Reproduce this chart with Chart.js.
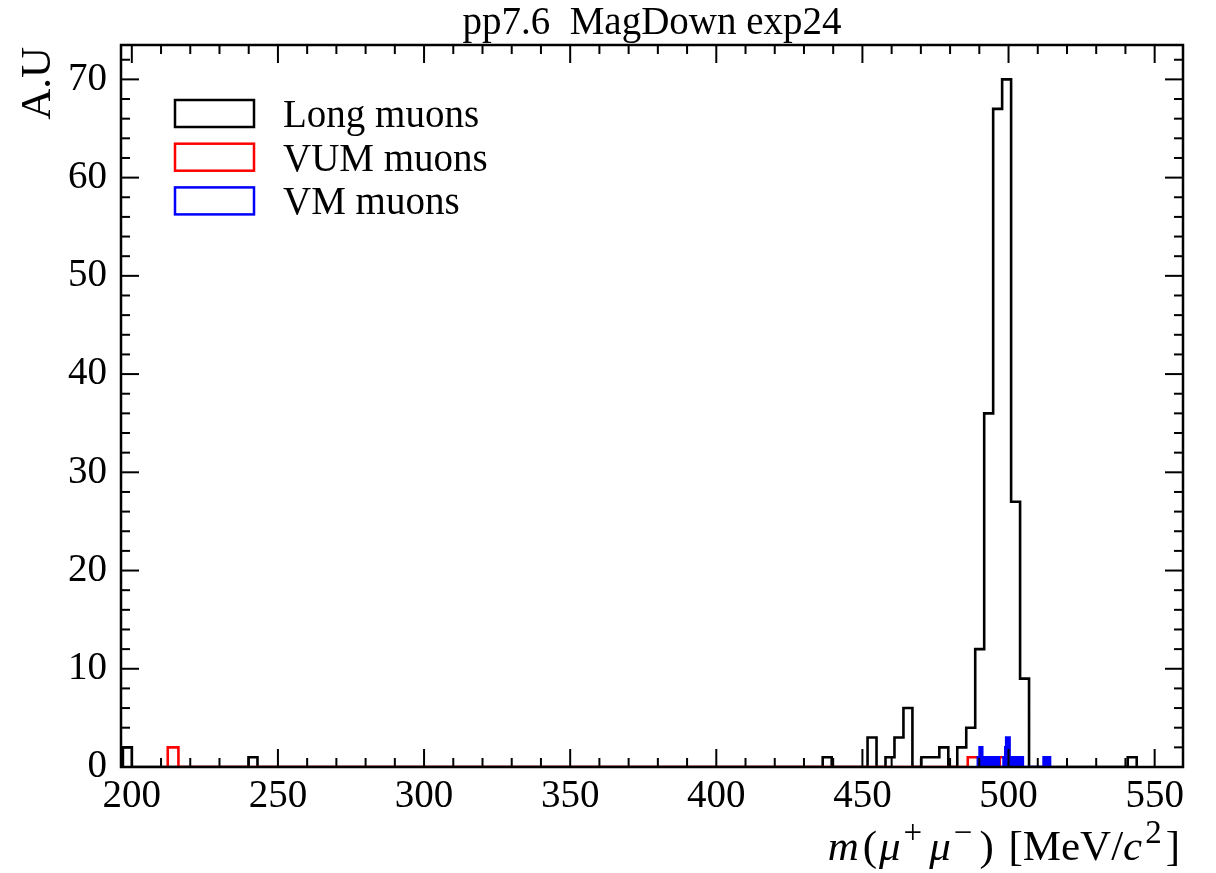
<!DOCTYPE html>
<html>
<head>
<meta charset="utf-8">
<title>pp7.6 MagDown exp24</title>
<script src="https://cdn.jsdelivr.net/npm/chart.js@4.4.1/dist/chart.umd.min.js"></script>
<style>
  html, body { margin: 0; padding: 0; background: #fff; }
  #wrap { width: 1216px; height: 873px; }
</style>
</head>
<body>
<div id="wrap"><canvas id="histChart"></canvas></div>
<script>
// Long muons: regular bins, only the non-empty ones (bin index, count)
const longStart  = 196.95;
const longWidth  = 3.07;
const longBins   = [0, 14, 78, 83, 85, 86, 87, 89, 90, 91, 93, 94, 95, 96, 97, 98, 99, 100, 112];
const longCounts = [2, 1, 1, 3, 1, 3, 6, 1, 1, 2, 2, 4, 12, 36, 67, 70, 27, 9, 1];

// VUM muons: regular bins
const vumStart  = 212.3;
const vumWidth  = 3.65;
const vumBins   = [0, 75, 78];
const vumCounts = [2, 1, 1];

// VM muons: very fine bins, read as (low edge, high edge, count)
const vmLow    = [489.5, 490.1, 491.0, 495.3, 498.3, 498.9, 499.2, 500.35, 512.0];
const vmHigh   = [490.1, 491.0, 494.9, 496.7, 498.9, 499.2, 500.35, 504.9, 514.2];
const vmCounts = [1, 2, 1, 1, 1, 2, 3, 1, 1];

// axes
const xTicks = [200, 250, 300, 350, 400, 450, 500, 550];
const yTicks = [0, 10, 20, 30, 40, 50, 60, 70];
const xMin = 196.3, xMax = 559.7;
const yMin = 0, yMax = 73.5;

const titleText = 'pp7.6  MagDown exp24';
const FONT = "'Liberation Serif', 'Times New Roman', serif";

// turn a list of bins into the outline of a step histogram
function binsToSteps(lows, highs, counts) {
    const pts = [];
    for (let i = 0; i < lows.length; i++) {
        const joined = i > 0 && Math.abs(lows[i] - highs[i - 1]) < 1e-6;
        if (!joined) {
            if (i > 0) pts.push({x: highs[i - 1], y: 0});
            pts.push({x: lows[i], y: 0});
        }
        pts.push({x: lows[i], y: counts[i]});
    }
    pts.push({x: highs[highs.length - 1], y: 0});
    return pts;
}

function regularBins(start, width, bins, counts) {
    const lows = bins.map(b => start + b * width);
    const highs = bins.map(b => start + (b + 1) * width);
    return binsToSteps(lows, highs, counts);
}

// frame, inward ticks on all four sides, title, axis labels, legend
const framePlugin = {
    id: 'frame',
    afterDraw(chart) {
        const {ctx, chartArea: a, scales} = chart;
        const xs = scales.x, ys = scales.y;
        ctx.save();
        ctx.strokeStyle = '#000';

        ctx.lineWidth = 2;
        const tick = (x1, y1, x2, y2) => { ctx.beginPath(); ctx.moveTo(x1, y1); ctx.lineTo(x2, y2); ctx.stroke(); };
        for (let v = 200; v <= xMax; v += 10) {
            const px = xs.getPixelForValue(v);
            const len = xTicks.includes(v) ? 18 : 9;
            tick(px, a.bottom, px, a.bottom - len);
            tick(px, a.top, px, a.top + len);
        }
        for (let v = 0; v <= yMax; v += 2) {
            const py = ys.getPixelForValue(v);
            const len = yTicks.includes(v) ? 18 : 9;
            tick(a.left, py, a.left + len, py);
            tick(a.right, py, a.right - len, py);
        }

        ctx.lineWidth = 2.5;
        ctx.strokeRect(a.left, a.top, a.right - a.left, a.bottom - a.top);

        ctx.fillStyle = '#000';
        ctx.textBaseline = 'alphabetic';

        // title
        ctx.font = '39px ' + FONT;
        ctx.textAlign = 'center';
        ctx.fillText(titleText, (a.left + a.right) / 2, 34);

        // y label
        ctx.font = '43px ' + FONT;
        ctx.save();
        ctx.translate(50, a.top + 2);
        ctx.rotate(-Math.PI / 2);
        ctx.textAlign = 'right';
        ctx.fillText('A.U', 0, 0);
        ctx.restore();

        // x label: m(μ+μ−) [MeV/c2] with italics and superscripts
        // [text, style, extra space after]
        const parts = [
            ['m', 'italic', 4], ['(', '', 2], ['μ', 'italic', 3], ['+', 'sup', 7],
            ['μ', 'italic', 3], ['−', 'sup', 7], [')', '', 4], [' [MeV/', '', 0],
            ['c', 'italic', 3], ['2', 'sup', 4], [']', '', 0]
        ];
        const fontFor = s => s === 'italic' ? 'italic 43px ' + FONT : s === 'sup' ? '33px ' + FONT : '43px ' + FONT;
        let total = 0;
        parts.forEach(p => { ctx.font = fontFor(p[1]); total += ctx.measureText(p[0]).width + p[2]; });
        let x = a.right - 3 - total;
        const base = 860;
        ctx.textAlign = 'left';
        parts.forEach(p => {
            ctx.font = fontFor(p[1]);
            ctx.fillText(p[0], x, p[1] === 'sup' ? base - 17 : base);
            x += ctx.measureText(p[0]).width + p[2];
        });

        // legend
        ctx.font = '39px ' + FONT;
        chart.data.datasets.forEach((ds, i) => {
            const top = 100 + i * 43.7;
            ctx.strokeStyle = ds.borderColor;
            ctx.lineWidth = 2.5;
            ctx.strokeRect(175, top, 79, 27);
            ctx.fillStyle = '#000';
            ctx.fillText(ds.label, 283, top + 27);
        });
        ctx.restore();
    }
};

const ctx = document.getElementById('histChart').getContext('2d');
const histChart = new Chart(ctx, {
    type: 'line',
    data: {
        datasets: [{
            label: 'Long muons',
            data: regularBins(longStart, longWidth, longBins, longCounts),
            borderColor: '#000000',
            order: 3
        }, {
            label: 'VUM muons',
            data: regularBins(vumStart, vumWidth, vumBins, vumCounts),
            borderColor: '#ff0000',
            order: 2
        }, {
            label: 'VM muons',
            data: binsToSteps(vmLow, vmHigh, vmCounts),
            borderColor: '#0000ff',
            backgroundColor: '#0000ff',
            fill: 'origin',
            order: 1
        }]
    },
    options: {
        responsive: true,
        maintainAspectRatio: false,
        animation: false,
        layout: { padding: { left: 0, right: 33, top: 45, bottom: 0 } },
        elements: {
            line: { borderWidth: 2.6, stepped: true, tension: 0, fill: false },
            point: { radius: 0, hoverRadius: 0 }
        },
        plugins: {
            legend: { display: false },
            tooltip: { enabled: false },
            title: { display: false }
        },
        scales: {
            x: {
                type: 'linear',
                min: xMin,
                max: xMax,
                grid: { display: false, drawTicks: false },
                border: { display: false },
                afterBuildTicks: s => { s.ticks = xTicks.map(v => ({value: v})); },
                afterFit: s => { s.height = 106; },
                ticks: {
                    color: '#000',
                    padding: 6,
                    maxRotation: 0,
                    autoSkip: false,
                    font: { family: FONT, size: 39 }
                }
            },
            y: {
                type: 'linear',
                min: yMin,
                max: yMax,
                grid: { display: false, drawTicks: false },
                border: { display: false },
                afterBuildTicks: s => { s.ticks = yTicks.map(v => ({value: v})); },
                afterFit: s => { s.width = 121; },
                ticks: {
                    color: '#000',
                    padding: 14,
                    autoSkip: false,
                    font: { family: FONT, size: 39 }
                }
            }
        }
    },
    plugins: [framePlugin]
});
</script>
</body>
</html>
